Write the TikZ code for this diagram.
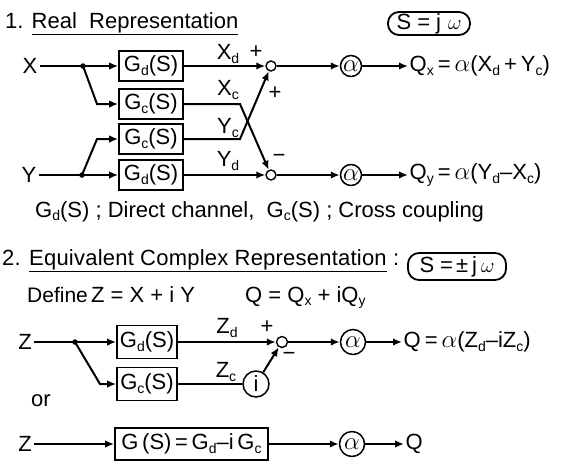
\documentclass[tikz,border=0pt]{standalone}
\usepackage{fontspec}
\setmainfont{Liberation Sans}
\usetikzlibrary{arrows.meta}
\newcommand\sbx[1]{\raisebox{-0.3ex}{\fontsize{14}{14}\selectfont #1}}
\newcommand\gal{{\fontsize{24}{24}\selectfont$\alpha$}}
\tikzset{
  every node/.style={font=\fontsize{22}{24}\selectfont, inner sep=0pt},
  blk/.style={draw, line width=1.7pt, minimum width=64pt, minimum height=30pt},
  blkb/.style={draw, line width=1.7pt, minimum width=60pt, minimum height=33pt},
  sumc/.style={draw, circle, line width=1.4pt, minimum size=10pt},
  alc/.style={draw, circle, line width=1.5pt, minimum size=21pt},
  alcb/.style={draw, circle, line width=1.5pt, minimum size=25pt},
  sig/.style={line width=2pt, -{Latex[length=9pt,width=7.5pt]}},
  wire/.style={line width=2pt},
  bdot/.style={circle, fill, minimum size=5.5pt},
  lbl/.style={inner sep=0pt},
  rbox/.style={draw, line width=1.8pt, rounded corners=11pt},
}
\begin{document}
\begin{tikzpicture}[x=1pt,y=-1pt]
\useasboundingbox (0,0) rectangle (561,461);
% ---- section 1
\node[anchor=base west] (t1) at (5,28) {1. \underline{Real\ \ Representation}};
\node[rbox, minimum width=82pt, minimum height=23pt] (sj1) at (429,23.5) {S\hspace{6pt}=\hspace{6pt}j\hspace{7pt}$\omega$};

\node[inner sep=2pt] (X) at (30,66) {X};
\node[inner sep=2pt] (Y) at (29,175) {Y};
\node[bdot] (bx) at (83,66) {};
\node[bdot] (by) at (82,175) {};
\node[blk] (gd1) at (151,66) {G\sbx{d}(S)};
\node[blk] (gc1) at (151,104) {G\sbx{c}(S)};
\node[blk] (gc2) at (151,139) {G\sbx{c}(S)};
\node[blk] (gd2) at (151,175) {G\sbx{d}(S)};
\coordinate (k1) at (97,104);
\coordinate (k2) at (97,139);
\draw[sig] (X) -- (gd1);
\draw[sig] (bx.center) -- (k1) -- (gc1.west);
\draw[sig] (Y) -- (gd2);
\draw[sig] (by.center) -- (k2) -- (gc2.west);

\node[sumc] (s1) at (271,66) {};
\node[sumc] (s2) at (271,175) {};
\coordinate (xc) at (240,104);
\coordinate (yc) at (240,139);
\draw[sig] (gd1) -- (s1);
\draw[sig] (gd2) -- (s2);
\draw[sig] (gc1.east) -- (xc) -- (s2);
\draw[sig] (gc2.east) -- (yc) -- (s1);

\node[lbl] (lxd) at (228,54) {X\sbx{d}};
\node[lbl] (p1) at (256,52) {+};
\node[lbl] (lxc) at (228,90) {X\sbx{c}};
\node[lbl] (lyc) at (228,128) {Y\sbx{c}};
\node[lbl] (p2) at (275,93) {+};
\node[lbl] (lyd) at (228,161) {Y\sbx{d}};
\node[lbl] (m1) at (279,158) {−};

\node[alc] (a1) at (351,66) {\gal};
\node[alc] (a2) at (351,175) {\gal};
\draw[sig] (s1) -- (a1);
\draw[sig] (s2) -- (a2);
\node[anchor=west, inner sep=1.5pt] (qx) at (408,66) {Q\sbx{x}\hspace{4pt}=\hspace{4pt}\gal(X\sbx{d}\hspace{4pt}+\hspace{4pt}Y\sbx{c})};
\node[anchor=west, inner sep=1.5pt] (qy) at (408,175) {Q\sbx{y}\hspace{4pt}=\hspace{4pt}\gal(Y\sbx{d}–X\sbx{c})};
\draw[sig] (a1) -- (qx);
\draw[sig] (a2) -- (qy);

\node[anchor=base west] (cap) at (35,217) {G\sbx{d}(S) ; Direct channel,\ \ G\sbx{c}(S) ; Cross coupling};

% ---- section 2
\node[anchor=base west] (t2) at (2,265) {\addfontfeature{LetterSpace=1}2. \underline{Equivalent Complex Representation} :};
\node[rbox, minimum width=98pt, minimum height=27pt] (sj2) at (457,266.5) {S\hspace{6pt}=\hspace{3pt}±\hspace{4pt}j\hspace{4pt}$\omega$};
\node[anchor=base west, font=\fontsize{21}{23}\selectfont] (def) at (27,302) {Define};
\node[anchor=base west] (dz) at (91,302) {Z = X + i Y};
\node[anchor=base west] (dq) at (245,302) {Q = Q\sbx{x} + iQ\sbx{y}};

\node[inner sep=2pt] (Z1) at (25,342) {Z};
\node[bdot] (bz) at (75,342) {};
\node[blkb] (gd3) at (147,342) {G\sbx{d}(S)};
\node[blkb] (gc3) at (147,384) {G\sbx{c}(S)};
\coordinate (k3) at (100,384);
\draw[sig] (Z1) -- (gd3);
\draw[sig] (bz.center) -- (k3) -- (gc3.west);
\node[draw, circle, line width=1.4pt, minimum size=11pt] (s3) at (282,342) {};
\node[draw, circle, line width=1.5pt, minimum size=26pt] (ic) at (256,384) {i};
\draw[sig] (gd3) -- (s3);
\draw[wire] (gc3) -- (ic);
\draw[sig] (ic) -- (s3);
\node[lbl] (lzd) at (227,328) {Z\sbx{d}};
\node[lbl] (p3) at (267,327) {+};
\node[lbl] (lzc) at (226,372) {Z\sbx{c}};
\node[lbl] (m2) at (289,356) {−};
\node[alcb] (a3) at (353,342) {\gal};
\draw[sig] (s3) -- (a3);
\node[anchor=west, inner sep=1.5pt] (q3) at (402,342) {Q\hspace{4pt}=\hspace{4pt}\gal(Z\sbx{d}–iZ\sbx{c})};
\draw[sig] (a3) -- (q3);

\node[lbl] (or) at (41,401) {or};

\node[inner sep=2pt] (Z2) at (25,444) {Z};
\node[draw, line width=1.7pt, minimum width=153pt, minimum height=32pt] (gb) at (191.5,444) {G\,(S)\,=\,G\sbx{d}–i\,G\sbx{c}};
\node[alcb] (a4) at (352,444) {\gal};
\node[anchor=west, inner sep=1.5pt] (q4) at (404,444) {Q};
\draw[sig] (Z2) -- (gb);
\draw[sig] (gb) -- (a4);
\draw[sig] (a4) -- (q4);
\end{tikzpicture}
\end{document}
